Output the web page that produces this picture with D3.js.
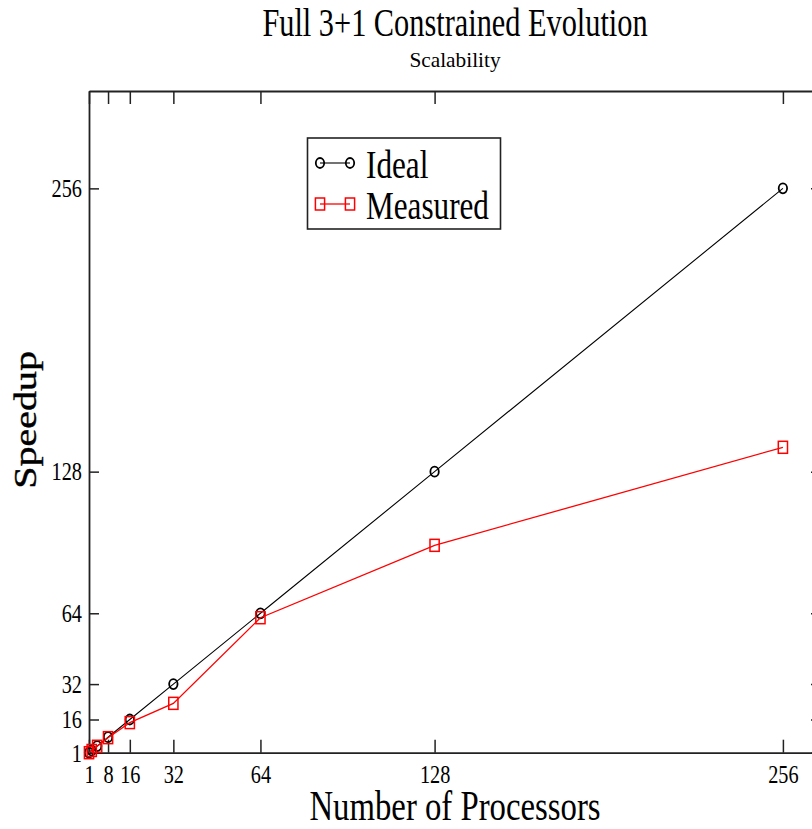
<!DOCTYPE html>
<html>
<head>
<meta charset="utf-8">
<script src="https://cdn.jsdelivr.net/npm/d3@7"></script>
<style>
  html, body { margin: 0; padding: 0; background: #fff; }
  svg { display: block; }
  text { font-family: "Liberation Serif", "Times New Roman", serif; fill: #000; }
</style>
</head>
<body>
<svg id="chart" width="812" height="829"></svg>
<script>
// Processor counts and speedups
const processors = [1, 2, 4, 8, 16, 32, 64, 128, 256];
const idealSpeedup = [1, 2, 4, 8, 16, 32, 64, 128, 256];
const measuredSpeedup = [1, 2, 3.9, 7.8, 14.6, 23.3, 62, 94.7, 139];

const xTickValues = [1, 8, 16, 32, 64, 128, 256];
const yTickValues = [1, 16, 32, 64, 128, 256];

const titleText = "Full 3+1 Constrained Evolution";
const subtitleText = "Scalability";
const xLabelText = "Number of Processors";
const yLabelText = "Speedup";

const seriesNames = ["Ideal", "Measured"];
const seriesColors = ["#000000", "#ff0000"];

const svg = d3.select("#chart");

// plot frame (right edge runs slightly past the page)
const frame = { left: 89, top: 91, right: 821, bottom: 752.7 };

const x = d3.scaleLinear().domain([1, 270]).range([frame.left, frame.right]);
const y = d3.scaleLinear().domain([1, 300]).range([frame.bottom, frame.top]);

// glyphs are drawn horizontally condensed
const SX = 0.78;

// ---- axes ----
const gBottom = svg.append("g")
  .attr("transform", `translate(0,${frame.bottom})`)
  .call(d3.axisBottom(x).tickValues(xTickValues).tickSizeInner(-13).tickSizeOuter(0).tickPadding(12));
const gTop = svg.append("g")
  .attr("transform", `translate(0,${frame.top})`)
  .call(d3.axisTop(x).tickValues(xTickValues).tickSizeInner(-13).tickSizeOuter(0).tickFormat(""));
const gLeft = svg.append("g")
  .attr("transform", `translate(${frame.left},0)`)
  .call(d3.axisLeft(y).tickValues(yTickValues).tickSizeInner(-10).tickSizeOuter(0).tickPadding(7));
const gRight = svg.append("g")
  .attr("transform", `translate(${frame.right},0)`)
  .call(d3.axisRight(y).tickValues(yTickValues).tickSizeInner(-10).tickSizeOuter(0).tickFormat(""));

[gBottom, gTop, gLeft, gRight].forEach(g => {
  g.select(".domain").attr("stroke", "#222").attr("stroke-width", 1.8);
  g.selectAll(".tick line").attr("stroke", "#222").attr("stroke-width", 1.5);
});

gBottom.selectAll(".tick text")
  .attr("font-size", 26)
  .attr("font-family", null)
  .attr("fill", "#000")
  .attr("transform", `scale(${SX},1)`);

gLeft.selectAll(".tick text")
  .attr("font-size", 26)
  .attr("font-family", null)
  .attr("fill", "#000")
  .attr("x", 0)
  .attr("transform", `translate(-7,0) scale(${SX},1)`);

// ---- titles ----
const cx = (frame.left + frame.right) / 2;
svg.append("text")
  .attr("transform", `translate(${cx},36) scale(0.74,1)`)
  .attr("text-anchor", "middle")
  .attr("font-size", 41)
  .text(titleText);
svg.append("text")
  .attr("transform", `translate(${cx},67) scale(0.97,1)`)
  .attr("text-anchor", "middle")
  .attr("font-size", 22)
  .text(subtitleText);
svg.append("text")
  .attr("transform", `translate(${cx},820) scale(${SX},1)`)
  .attr("text-anchor", "middle")
  .attr("font-size", 42)
  .text(xLabelText);
svg.append("text")
  .attr("transform", `translate(36,420) scale(0.8,1) rotate(-90)`)
  .attr("text-anchor", "middle")
  .attr("font-size", 40)
  .attr("stroke", "#000")
  .attr("stroke-width", 0.5)
  .text(yLabelText);

// ---- series ----
const series = [
  { name: seriesNames[0], color: seriesColors[0], values: idealSpeedup, marker: "circle", width: 1.1 },
  { name: seriesNames[1], color: seriesColors[1], values: measuredSpeedup, marker: "square", width: 1.3 }
];

const line = d3.line().x(d => x(d[0])).y(d => y(d[1]));

function drawMarker(g, kind, color) {
  if (kind === "circle") {
    g.append("ellipse").attr("rx", 4.2).attr("ry", 5)
      .attr("fill", "none").attr("stroke", color).attr("stroke-width", 1.8);
  } else {
    g.append("rect").attr("x", -4.6).attr("y", -6).attr("width", 9.2).attr("height", 12)
      .attr("fill", "none").attr("stroke", color).attr("stroke-width", 1.5);
  }
}

series.forEach(s => {
  const pts = processors.map((p, i) => [p, s.values[i]]);
  svg.append("path")
    .datum(pts)
    .attr("d", line)
    .attr("fill", "none")
    .attr("stroke", s.color)
    .attr("stroke-width", s.width);
  pts.forEach(p => {
    const g = svg.append("g").attr("transform", `translate(${x(p[0])},${y(p[1])})`);
    drawMarker(g, s.marker, s.color);
  });
});

// ---- legend ----
const legend = svg.append("g");
legend.append("rect")
  .attr("x", 307.5).attr("y", 138).attr("width", 193).attr("height", 91)
  .attr("fill", "#fff").attr("stroke", "#222").attr("stroke-width", 1.6);

series.forEach((s, i) => {
  const rowY = 163 + i * 41;
  legend.append("line")
    .attr("x1", 320).attr("x2", 350).attr("y1", rowY).attr("y2", rowY)
    .attr("stroke", s.color).attr("stroke-width", s.width);
  [320, 350].forEach(px => {
    const g = legend.append("g").attr("transform", `translate(${px},${rowY})`);
    drawMarker(g, s.marker, s.color);
  });
  legend.append("text")
    .attr("transform", `translate(366,${rowY + 15}) scale(0.8,1)`)
    .attr("font-size", 39)
    .text(s.name);
});
</script>
</body>
</html>
